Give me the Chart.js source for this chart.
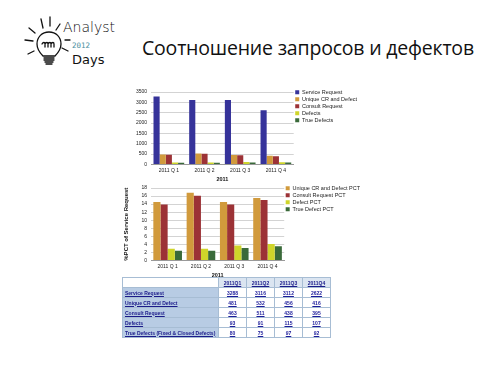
<!DOCTYPE html>
<html>
<head>
<meta charset="utf-8">
<script src="https://cdn.jsdelivr.net/npm/chart.js@4"></script>
<style>
  body { margin: 0; background: #fff; width: 500px; height: 375px; position: relative; overflow: hidden; font-family: "Open Sans", sans-serif; }
  #logo { position: absolute; left: 0; top: 0; }
  #title { position: absolute; left: 142px; top: 34px; font-size: 19.5px; color: #111; white-space: nowrap; font-family: "Open Sans", sans-serif; letter-spacing: -0.2px; }
  .box { position: absolute; }
  #c1box { left: 122px; top: 85px; width: 245px; height: 98px; }
  #c2box { left: 122px; top: 181px; width: 248px; height: 98px; }
  #tbl { position: absolute; left: 122px; top: 277px; border-collapse: collapse; font-family: "Liberation Sans", sans-serif; font-size: 5px; font-weight: bold; }
  #tbl td { border: 1px solid #a7bdd4; height: 9px; padding: 0 2px; white-space: nowrap; }
  #tbl td.lab { background: #b8cce4; width: 91px; color: #1b1b8a; text-decoration: underline; }
  #tbl td.hd { background: #dbe5f1; color: #1b1b8a; text-decoration: underline; text-align: center; width: 23px; }
  #tbl td.v { background: #fff; color: #1b1b9a; text-decoration: underline; text-align: center; }
</style>
</head>
<body>
<svg id="logo" width="130" height="75">
  <g stroke="#111" stroke-width="1.3" fill="none" stroke-linecap="round">
    <path d="M43 56 C39 52 37 48 37 44 C37 37 42 32 49 32 C56 32 61 37 61 44 C61 48 59 52 55 56 Z"/>
    <path d="M44 58 L54 58 M44 60 L54 60 M45 62 L53 62 M46 64 L52 64"/>
    <path d="M42 44 c1 -2 3 -2 3 0 v3 M45 44 c1 -2 3 -2 3 0 v3 M48 44 c1 -2 3 -2 3 0 v3 M51 44 c1 -2 3 -2 3 0 v3"/>
    <path d="M29 28 L35 33 M41 19 L43 28 M50 17 L50 26 M25 40 L33 41 M28 54 L34 51 M60 24 L56 30 M65 40 L70 40 M62 48 L68 51"/>
  </g>
  <text x="63" y="32" font-family="DejaVu Sans" font-size="14" fill="#111" font-weight="300">Analyst</text>
  <text x="72" y="48" font-family="DejaVu Sans Mono" font-size="7.5" fill="#4a8fa0">2012</text>
  <text x="72" y="64" font-family="DejaVu Sans" font-size="13" fill="#111">Days</text>
</svg>
<div id="title">Соотношение запросов и дефектов</div>
<div class="box" id="c1box"><canvas id="chart1"></canvas></div>
<div class="box" id="c2box"><canvas id="chart2"></canvas></div>
<table id="tbl"></table>
<script>
var quarters = ["2011 Q 1", "2011 Q 2", "2011 Q 3", "2011 Q 4"];
var serviceRequest = [3288, 3116, 3112, 2622];
var uniqueCR = [481, 532, 456, 416];
var consultRequest = [463, 511, 438, 395];
var defects = [93, 91, 115, 107];
var trueDefects = [80, 75, 97, 92];

var uniquePct = [14.5, 16.8, 14.5, 15.5];
var consultPct = [13.9, 16.1, 13.9, 15.0];
var defectPct = [2.9, 2.9, 3.7, 4.1];
var trueDefectPct = [2.4, 2.4, 3.1, 3.5];

var yTicks1 = [0, 500, 1000, 1500, 2000, 2500, 3000, 3500];
var yTicks2 = [0, 2, 4, 6, 8, 10, 12, 14, 16, 18];

var tableRows = [
  ["Service Request", serviceRequest],
  ["Unique CR and Defect", uniqueCR],
  ["Consult Request", consultRequest],
  ["Defects", defects],
  ["True Defects (Fixed & Closed Defects)", trueDefects]
];

var font = { family: "Liberation Sans", size: 5 };

function barChart(canvasId, datasets, maxY, step, yTitle) {
  var ctx = document.getElementById(canvasId).getContext('2d');
  return new Chart(ctx, {
    type: 'bar',
    data: { labels: quarters, datasets: datasets },
    options: {
      responsive: true,
      maintainAspectRatio: false,
      animation: false,
      layout: { padding: { top: 3, right: 0, bottom: 0, left: 0 } },
      plugins: {
        legend: {
          position: 'right',
          align: 'start',
          maxWidth: 100,
          labels: { boxWidth: 4, boxHeight: 4, padding: 1.5, color: '#222', font: { family: "Liberation Sans", size: 5.5 } }
        },
        tooltip: { enabled: false }
      },
      datasets: { bar: { categoryPercentage: 0.86, barPercentage: 1.0 } },
      scales: {
        x: {
          grid: { display: false, drawTicks: false },
          border: { color: '#999' },
          ticks: { color: '#222', font: font, padding: 3, maxRotation: 0 },
          title: { display: true, text: '2011', color: '#111', font: { family: "Liberation Sans", size: 5.5, weight: 'bold' }, padding: 0 }
        },
        y: {
          min: 0, max: maxY,
          afterFit: function (scale) { scale.width = 29; },
          grid: { color: '#c8c8c8', lineWidth: 0.8, drawTicks: false },
          border: { display: false },
          ticks: { stepSize: step, autoSkip: false, color: '#222', font: font, padding: 4,
                   callback: function (v) { return String(v); } },
          title: { display: !!yTitle, text: yTitle || '', color: '#111', font: { family: "Liberation Sans", size: 6, weight: 'bold' }, padding: 1 }
        }
      }
    }
  });
}

barChart('chart1', [
  { label: 'Service Request', data: serviceRequest, backgroundColor: '#36339a' },
  { label: 'Unique CR and Defect', data: uniqueCR, backgroundColor: '#d19a3c' },
  { label: 'Consult Request', data: consultRequest, backgroundColor: '#9c3236' },
  { label: 'Defects', data: defects, backgroundColor: '#cfd52a' },
  { label: 'True Defects', data: trueDefects, backgroundColor: '#3a6a3a' }
], yTicks1[yTicks1.length - 1], yTicks1[1] - yTicks1[0]);

barChart('chart2', [
  { label: 'Unique CR and Defect PCT', data: uniquePct, backgroundColor: '#d19a3c' },
  { label: 'Consult Request PCT', data: consultPct, backgroundColor: '#9c3236' },
  { label: 'Defect PCT', data: defectPct, backgroundColor: '#cfd52a' },
  { label: 'True Defect PCT', data: trueDefectPct, backgroundColor: '#3a6a3a' }
], yTicks2[yTicks2.length - 1], yTicks2[1] - yTicks2[0], '%PCT of Service Request');

var tbl = document.getElementById('tbl');
var html = '<tr><td class="lab" style="background:#fff"></td>';
quarters.forEach(function (q) { html += '<td class="hd">' + q.replace(/ /g, '') + '</td>'; });
html += '</tr>';
tableRows.forEach(function (r) {
  html += '<tr><td class="lab">' + r[0].replace('&', '&amp;') + '</td>';
  r[1].forEach(function (v) { html += '<td class="v">' + v + '</td>'; });
  html += '</tr>';
});
tbl.innerHTML = html;
</script>
</body>
</html>
